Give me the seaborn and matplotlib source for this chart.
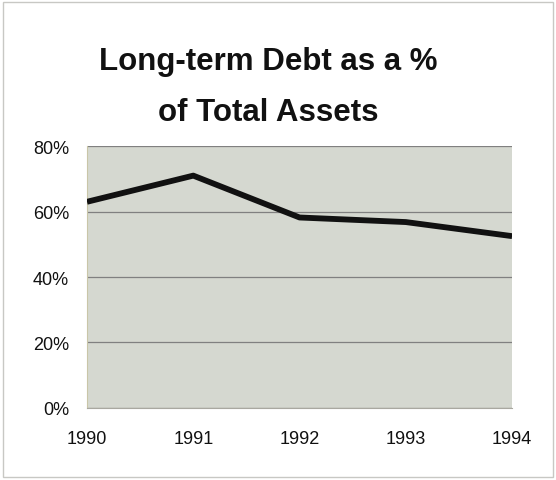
import matplotlib
matplotlib.use("Agg")
import matplotlib.pyplot as plt
import matplotlib.ticker as mticker
import seaborn as sns
import pandas as pd

years = [1990, 1991, 1992, 1993, 1994]
debt_pct = [63.0, 71.0, 58.2, 56.8, 52.5]
y_ticks = [0, 20, 40, 60, 80]

df = pd.DataFrame({"year": years, "pct": debt_pct})

sns.set_style("white")
plt.rcParams["font.family"] = ["Liberation Sans", "DejaVu Sans"]

fig = plt.figure(figsize=(5.56, 4.81), dpi=100)
fig.patch.set_facecolor("white")
ax = fig.add_axes([0.1565, 0.150, 0.7645, 0.544])
ax.set_facecolor("#d5d8d0")

sns.lineplot(data=df, x="year", y="pct", ax=ax, color="#111111",
             linewidth=4.2, solid_capstyle="butt", zorder=3)

ax.set_xlim(years[0], years[-1])
ax.set_ylim(0, 80)
ax.set_xticks(years)
ax.set_yticks(y_ticks)
ax.yaxis.set_major_formatter(mticker.FuncFormatter(lambda v, p: f"{v:.0f}%"))
ax.grid(axis="y", color="#808080", linewidth=0.9, zorder=1)
ax.grid(axis="x", visible=False)
ax.set_axisbelow(True)

for side in ["top", "right"]:
    ax.spines[side].set_visible(False)
ax.spines["left"].set_color("#c9c6a8")
ax.spines["bottom"].set_color("#a9a8a0")
ax.spines["left"].set_linewidth(0.8)
ax.spines["bottom"].set_linewidth(0.8)

ax.tick_params(axis="both", direction="out", length=5, width=0.8,
               color="#a0a09a", labelsize=13, labelcolor="#111111")
ax.tick_params(axis="y", pad=8)
ax.tick_params(axis="x", pad=11)
ax.set_xlabel("")
ax.set_ylabel("")

fig.text(0.483, 0.872, "Long-term Debt as a %", ha="center", va="center",
         fontsize=22.5, fontweight="bold", color="#111111")
fig.text(0.483, 0.766, "of Total Assets", ha="center", va="center",
         fontsize=22.5, fontweight="bold", color="#111111")

# thin outer frame
frame = plt.Rectangle((0.006, 0.006), 0.988, 0.988, transform=fig.transFigure,
                      fill=False, edgecolor="#c8c8c4", linewidth=1.0)
fig.patches.append(frame)

fig.savefig("out.png", dpi=100, facecolor="white")
